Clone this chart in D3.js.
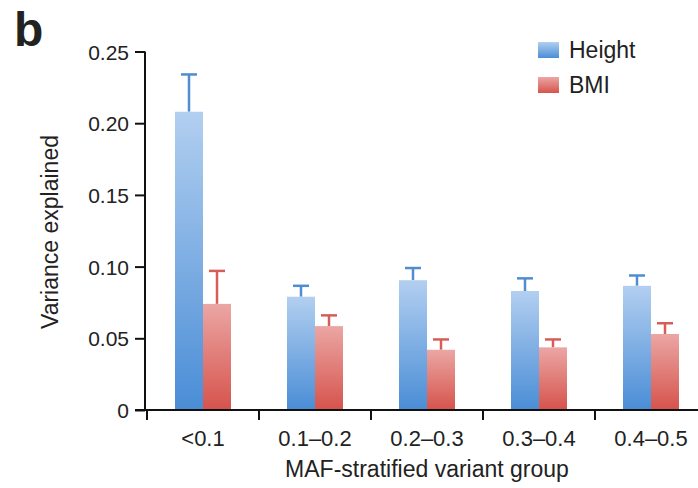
<!DOCTYPE html>
<html>
<head>
<meta charset="utf-8">
<script src="https://cdn.jsdelivr.net/npm/d3@7"></script>
<style>
  body { margin: 0; background: #fff; }
  text { font-family: "Liberation Sans", Arial, sans-serif; fill: #222; }
</style>
</head>
<body>
<div id="chart"></div>
<script>
// data
const groups = ["<0.1", "0.1\u20130.2", "0.2\u20130.3", "0.3\u20130.4", "0.4\u20130.5"];
const series = ["Height", "BMI"];
const heightValues = [0.208, 0.079, 0.0905, 0.083, 0.0866];
const heightErrors = [0.026, 0.0076, 0.0085, 0.0088, 0.0072];
const bmiValues = [0.074, 0.0585, 0.042, 0.0437, 0.053];
const bmiErrors = [0.023, 0.0075, 0.0072, 0.0055, 0.0075];
const yTicks = [0, 0.05, 0.10, 0.15, 0.20, 0.25];

const width = 698, height = 488;
const colors = {
  Height: { top: "#b2cff0", bottom: "#4a8dd6", err: "#4f8dcf" },
  BMI: { top: "#eba6a4", bottom: "#d6534c", err: "#d65e59" }
};

const svg = d3.select("#chart").append("svg")
  .attr("width", width)
  .attr("height", height);

const defs = svg.append("defs");
series.forEach(s => {
  const g = defs.append("linearGradient")
    .attr("id", "grad-" + s)
    .attr("x1", 0).attr("y1", 0).attr("x2", 0).attr("y2", 1);
  g.append("stop").attr("offset", "0%").attr("stop-color", colors[s].top);
  g.append("stop").attr("offset", "100%").attr("stop-color", colors[s].bottom);
});

const x0 = d3.scaleBand()
  .domain(groups)
  .range([147, 147 + 112 * groups.length]);

const x1 = d3.scaleBand()
  .domain(series)
  .range([28, 84]);

const y = d3.scaleLinear()
  .domain([0, 0.25])
  .range([410, 51.5]);

const rows = groups.map((g, i) => ({
  group: g,
  vals: [
    { s: "Height", v: heightValues[i], e: heightErrors[i] },
    { s: "BMI", v: bmiValues[i], e: bmiErrors[i] }
  ]
}));

// bars + error bars
const gGroup = svg.selectAll(".grp")
  .data(rows)
  .enter().append("g")
  .attr("class", "grp")
  .attr("transform", d => `translate(${x0(d.group)},0)`);

const bar = gGroup.selectAll(".bar")
  .data(d => d.vals)
  .enter().append("g")
  .attr("class", "bar");

bar.append("line")
  .attr("x1", d => x1(d.s) + x1.bandwidth() / 2)
  .attr("x2", d => x1(d.s) + x1.bandwidth() / 2)
  .attr("y1", d => y(d.v))
  .attr("y2", d => y(d.v + d.e))
  .attr("stroke", d => colors[d.s].err)
  .attr("stroke-width", 2.5);

bar.append("line")
  .attr("x1", d => x1(d.s) + x1.bandwidth() / 2 - 8)
  .attr("x2", d => x1(d.s) + x1.bandwidth() / 2 + 8)
  .attr("y1", d => y(d.v + d.e))
  .attr("y2", d => y(d.v + d.e))
  .attr("stroke", d => colors[d.s].err)
  .attr("stroke-width", 2.5);

bar.append("rect")
  .attr("x", d => x1(d.s))
  .attr("width", x1.bandwidth())
  .attr("y", d => y(d.v))
  .attr("height", d => y(0) - y(d.v))
  .attr("fill", d => `url(#grad-${d.s})`);

// y axis
const yAxis = svg.append("g")
  .attr("transform", "translate(145,0)")
  .call(d3.axisLeft(y).tickValues(yTicks).tickSize(10).tickPadding(6)
    .tickFormat(d => d === 0 ? "0" : d3.format(".2f")(d)));
yAxis.select(".domain").attr("stroke", "#111").attr("stroke-width", 2).attr("d", `M0,${y(0.25)}V${y(0)}`);
yAxis.selectAll(".tick line").attr("stroke", "#111").attr("stroke-width", 2);
yAxis.selectAll(".tick text")
  .style("font-size", "21px")
  .attr("fill", "#333")
  .attr("dy", "0.36em");

// x axis with ticks at group boundaries
const xAxis = svg.append("g")
  .attr("transform", `translate(0,${y(0)})`);
xAxis.append("line")
  .attr("x1", 135).attr("x2", width)
  .attr("stroke", "#111").attr("stroke-width", 2);
xAxis.selectAll(".xt")
  .data(groups)
  .enter().append("line")
  .attr("class", "xt")
  .attr("x1", d => x0(d)).attr("x2", d => x0(d))
  .attr("y1", 0).attr("y2", 10)
  .attr("stroke", "#111").attr("stroke-width", 2);
xAxis.selectAll(".xl")
  .data(groups)
  .enter().append("text")
  .attr("class", "xl")
  .attr("x", d => x0(d) + x0.bandwidth() / 2)
  .attr("y", 36)
  .attr("text-anchor", "middle")
  .style("font-size", "22px")
  .attr("fill", "#333")
  .text(d => d);

// axis titles
svg.append("text")
  .attr("x", 427).attr("y", 477)
  .attr("text-anchor", "middle")
  .style("font-size", "23px")
  .attr("fill", "#333")
  .text("MAF-stratified variant group");

svg.append("text")
  .attr("transform", "translate(58,232) rotate(-90)")
  .attr("text-anchor", "middle")
  .style("font-size", "23px")
  .attr("fill", "#333")
  .text("Variance explained");

// panel label
svg.append("text")
  .attr("x", 14).attr("y", 46)
  .style("font-size", "48px")
  .style("font-weight", "bold")
  .attr("fill", "#111")
  .text("b");

// legend
const legend = svg.selectAll(".leg")
  .data(series)
  .enter().append("g")
  .attr("class", "leg")
  .attr("transform", (d, i) => `translate(538,${42 + i * 35})`);
legend.append("rect")
  .attr("width", 21).attr("height", 16)
  .attr("fill", d => `url(#grad-${d})`);
legend.append("text")
  .attr("x", 31).attr("y", 16)
  .style("font-size", "23px")
  .attr("fill", "#333")
  .text(d => d);
</script>
</body>
</html>
